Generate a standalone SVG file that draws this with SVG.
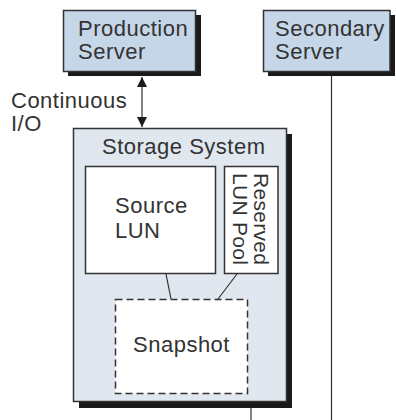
<svg xmlns="http://www.w3.org/2000/svg" width="396" height="420" viewBox="0 0 396 420">
<defs>
<style>
text{font-family:"Liberation Sans",Arial,sans-serif;fill:#333;font-size:22px;letter-spacing:0.5px}
.box{stroke:#333;stroke-width:1.5}
.shadow{fill:#1a1a1a}
.srv{fill:#c5d6e8}
.line{stroke:#333;stroke-width:1.2;fill:none}
.rot{font-size:21px;letter-spacing:0.3px}
</style>
<marker id="ah" viewBox="0 0 10 10" refX="10" refY="5" markerWidth="10" markerHeight="11" markerUnits="userSpaceOnUse" orient="auto-start-reverse">
<path d="M0,0 L10,5 L0,10 Z" fill="#1a1a1a"/>
</marker>
</defs>
<rect width="396" height="420" fill="#fff"/>
<g id="connectors">
<line class="line" x1="142" y1="77" x2="142" y2="127" marker-start="url(#ah)" marker-end="url(#ah)"/>
<line class="line" x1="331.5" y1="71" x2="331.5" y2="420"/>
<line class="line" x1="251" y1="407" x2="251" y2="420"/>
</g>
<g id="production-server">
<rect class="shadow" x="68" y="15" width="133" height="61"/>
<rect class="box srv" x="63.5" y="10.5" width="132" height="61"/>
<text x="78" y="36">Production</text>
<text x="78" y="59">Server</text>
</g>
<g id="secondary-server">
<rect class="shadow" x="268" y="15" width="127" height="61"/>
<rect class="box srv" x="263.5" y="10.5" width="126.5" height="61"/>
<text x="275" y="36">Secondary</text>
<text x="275" y="59">Server</text>
</g>
<g id="continuous-io">
<text x="11" y="108">Continuous</text>
<text x="11" y="131">I/O</text>
</g>
<g id="storage-system">
<rect class="shadow" x="79" y="134" width="213" height="274"/>
<rect class="box" x="73.5" y="128.5" width="213" height="273" fill="#e0e7ef"/>
<text x="102" y="154">Storage System</text>
</g>
<g id="source-lun">
<rect class="box" x="85.5" y="166.5" width="130" height="107" fill="#fff"/>
<text x="115" y="213">Source</text>
<text x="115" y="238">LUN</text>
</g>
<g id="reserved-lun-pool">
<rect class="box" x="224.5" y="166.5" width="53.5" height="107" fill="#fff"/>
<g transform="translate(254,173) rotate(90)">
<text class="rot" x="0" y="0">Reserved</text>
<text class="rot" x="0" y="21">LUN Pool</text>
</g>
</g>
<g id="snapshot-links">
<line class="line" x1="166" y1="274" x2="171" y2="299"/>
<line class="line" x1="237" y1="274" x2="218" y2="299"/>
</g>
<g id="snapshot">
<rect class="box" x="115.5" y="299.5" width="132" height="94" fill="#fff" stroke-dasharray="7,4"/>
<text x="133" y="352">Snapshot</text>
</g>
</svg>
